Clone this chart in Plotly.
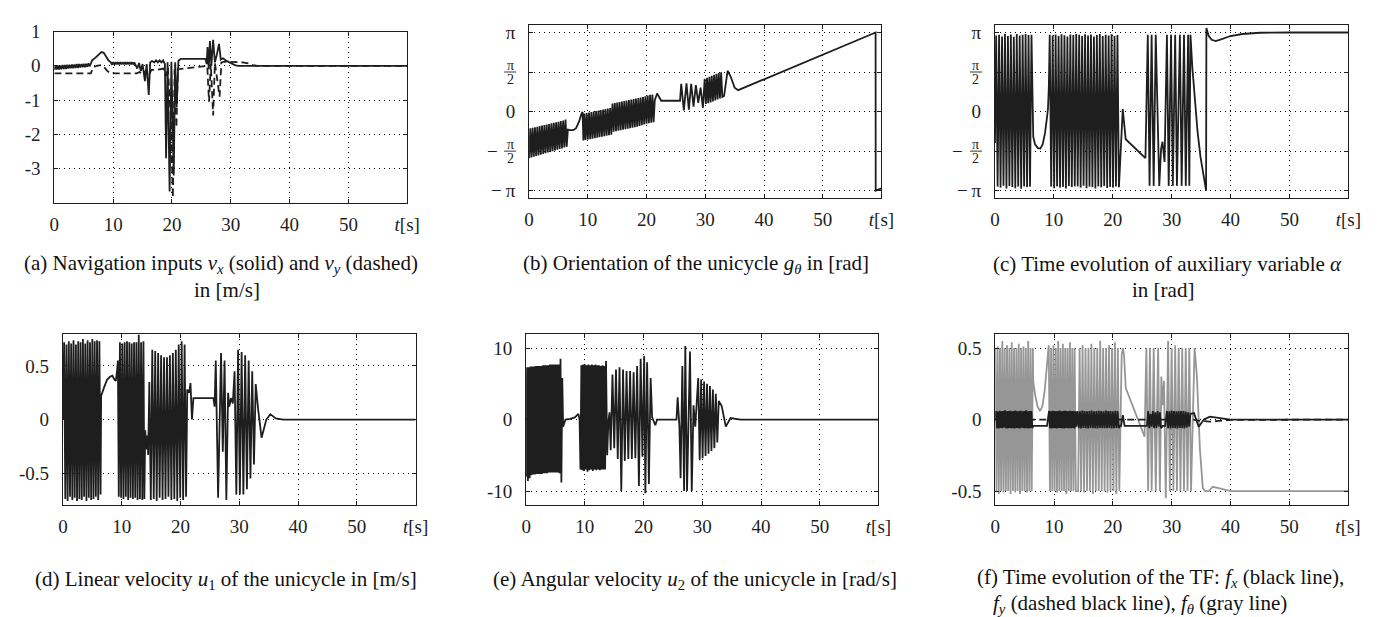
import math
import plotly.graph_objects as go

PI = math.pi

# ---------------- (a) navigation inputs v_x, v_y [m/s] ----------------
vx_t = [0.0, 0.2, 0.4, 0.6, 0.8, 1.0, 1.2, 1.4, 1.6, 1.8, 2.0, 2.2, 2.4, 2.6, 2.8, 3.0,
        3.2, 3.4, 3.6, 3.8, 4.0, 4.2, 4.4, 4.6, 4.8, 5.0, 5.2, 5.4, 5.6, 5.8, 6.0, 6.2,
        6.4, 7.0, 7.6, 8.0, 8.4, 8.8, 9.2, 9.6,
        9.8, 10.0, 10.2, 10.4, 10.6, 10.8, 11.0, 11.2, 11.4, 11.6, 11.8, 12.0, 12.2, 12.4,
        12.6, 12.8, 13.0, 13.2, 13.4, 13.6, 13.8,
        14.1, 14.4, 14.7, 15.0, 15.4, 15.7, 16.05, 16.3, 16.6, 17.0, 17.3, 17.6, 17.9, 18.2,
        18.5, 18.8, 19.0, 19.25, 19.6, 19.9, 20.3, 20.55, 20.8, 21.1, 21.5,
        25.7, 25.9, 26.05, 26.25, 26.45, 26.7, 27.0, 27.3, 27.6, 28.0, 28.3, 28.7, 29.2,
        29.7, 30.2, 30.7, 31.2, 60.0]
vx_v = [-0.12, 0.00, -0.11, 0.01, -0.11, 0.01, -0.10, 0.02, -0.09, 0.02, -0.09, 0.03, -0.08, 0.03, -0.07, 0.04,
        -0.07, 0.04, -0.06, 0.05, -0.06, 0.05, -0.05, 0.05, -0.04, 0.06, -0.04, 0.06, -0.03, 0.07, -0.02, 0.07,
        0.15, 0.24, 0.34, 0.40, 0.38, 0.28, 0.16, 0.10,
        0.03, 0.11, 0.03, 0.11, 0.04, 0.11, 0.04, 0.11, 0.04, 0.11, 0.04, 0.11, 0.04, 0.11,
        0.04, 0.11, 0.04, 0.11, 0.04, 0.10, 0.03,
        -0.08, 0.08, -0.15, 0.05, -0.45, 0.05, -0.85, 0.10, 0.14, 0.10, 0.16, 0.10, 0.16, 0.10,
        0.16, 0.05, -2.70, 0.10, -3.67, 0.12, -3.20, 0.10, -1.20, 0.15, 0.20,
        0.20, 0.05, 0.55, -0.10, 0.72, 0.00, 0.76, 0.10, 0.30, 0.64, 0.18, 0.22, 0.15,
        0.10, 0.05, 0.02, 0.00, 0.00]
vy_t = [0.0, 6.2, 6.6, 7.2, 8.0, 8.5, 9.0, 9.5,
        14.0, 14.5, 15.0, 15.5, 16.0, 16.5, 17.5, 18.5,
        19.0, 19.3, 19.8, 20.15, 20.45, 20.75, 21.0, 22.0, 24.0, 26.0,
        26.3, 26.6, 27.0, 27.3, 28.1, 28.4, 29.0, 30.0, 31.0, 32.0, 33.0, 33.8, 34.5, 60.0]
vy_v = [-0.22, -0.22, -0.05, 0.0, 0.02, -0.05, -0.15, -0.22,
        -0.22, -0.18, -0.25, -0.15, -0.30, -0.12, -0.12, -0.08,
        -0.30, -0.05, -1.50, -3.85, -0.10, -1.80, -0.10, -0.08, -0.03, 0.0,
        -1.05, 0.05, -1.45, 0.08, -0.90, 0.10, 0.12, 0.12, 0.12, 0.10, 0.07, 0.02, 0.0, 0.0]

# ---------------- (b) orientation g_theta [rad] ----------------
gth_t = [0.0, 0.2, 0.4, 0.6, 0.8, 1.0, 1.2, 1.4, 1.6, 1.8, 2.0, 2.2, 2.4, 2.6, 2.8, 3.0,
         3.2, 3.4, 3.6, 3.8, 4.0, 4.2, 4.4, 4.6, 4.8, 5.0, 5.2, 5.4, 5.6, 5.8, 6.0, 6.2, 6.4,
         6.6, 7.0, 7.5, 8.0, 8.5, 8.9, 9.1, 9.25,
         9.4, 9.6, 9.8, 10.0, 10.2, 10.4, 10.6, 10.8, 11.0, 11.2, 11.4, 11.6, 11.8, 12.0,
         12.2, 12.4, 12.6, 12.8, 13.0, 13.2, 13.4, 13.6, 13.8, 14.0,
         14.2, 14.4, 14.6, 14.8, 15.0, 15.2, 15.4, 15.6, 15.8, 16.0, 16.2, 16.4, 16.6, 16.8,
         17.0, 17.2, 17.4, 17.6, 17.8, 18.0, 18.2, 18.4, 18.6, 18.8, 19.0, 19.2, 19.4, 19.6,
         19.8, 20.0, 20.2, 20.4, 20.6, 20.8, 21.0, 21.2,
         21.4, 21.8, 22.2, 22.5, 25.7,
         25.9, 26.35, 26.8, 27.2, 27.6, 28.0, 28.4, 28.8, 29.2, 29.6,
         29.9, 30.1, 30.3, 30.5, 30.7, 30.9, 31.1, 31.3, 31.5, 31.7, 31.9, 32.1, 32.3, 32.5,
         32.7, 32.9,
         33.2, 33.8, 34.3, 35.0, 35.6, 59.0, 59.02, 60.0]
gth_v = [-1.85, -0.66, -1.82, -0.64, -1.79, -0.62, -1.76, -0.60, -1.74, -0.57, -1.71, -0.55, -1.68, -0.53, -1.65, -0.51,
         -1.62, -0.49, -1.60, -0.47, -1.57, -0.45, -1.54, -0.43, -1.51, -0.41, -1.48, -0.38, -1.46, -0.36, -1.43, -0.32, -1.40,
         -0.72, -0.74, -0.74, -0.66, -0.40, -0.10, -0.02, -1.15,
         -0.08, -1.13, -0.06, -1.11, -0.04, -1.10, -0.02, -1.08, 0.0, -1.06, 0.02, -1.04, 0.04, -1.02,
         0.06, -1.0, 0.08, -0.98, 0.10, -0.96, 0.12, -0.94, 0.14, -0.92,
         0.32, -0.80, 0.34, -0.78, 0.36, -0.76, 0.38, -0.74, 0.40, -0.72, 0.42, -0.70, 0.44, -0.68,
         0.46, -0.66, 0.48, -0.64, 0.50, -0.62, 0.52, -0.60, 0.54, -0.57, 0.56, -0.54, 0.58, -0.51,
         0.61, -0.48, 0.64, -0.46, 0.67, -0.44, 0.68, -0.42,
         0.45, 0.72, 0.55, 0.43, 0.43,
         1.10, 0.05, 1.12, 0.08, 1.10, 0.20, 1.05, 0.35, 0.95, 0.15,
         1.30, 0.30, 1.34, 0.33, 1.38, 0.36, 1.42, 0.40, 1.46, 0.44, 1.50, 0.48, 1.53, 0.52,
         1.56, 0.58,
         0.62, 1.62, 1.40, 0.95, 0.85, 3.14, -3.14, -3.05]

# ---------------- (c) auxiliary variable alpha [rad] ----------------
al_t = [0.0, 0.2, 0.45, 0.7, 0.95, 1.2, 1.45, 1.7, 1.95, 2.2, 2.45, 2.7, 2.95, 3.2, 3.45, 3.7,
        3.95, 4.2, 4.45, 4.7, 4.95, 5.2, 5.45, 5.7, 5.95, 6.2,
        6.5, 6.8, 7.3, 7.7, 8.1, 8.5, 8.8, 9.0, 9.15,
        9.3, 9.55, 9.8, 10.05, 10.3, 10.55, 10.8, 11.05, 11.3, 11.55, 11.8, 12.05, 12.3, 12.55,
        12.8, 13.05, 13.3, 13.55, 13.8,
        14.05, 14.3, 14.55, 14.8, 15.05, 15.3, 15.55, 15.8, 16.05, 16.3, 16.55, 16.8, 17.05,
        17.3, 17.55, 17.8, 18.05, 18.3, 18.55, 18.8, 19.05, 19.3, 19.55, 19.8, 20.05, 20.3,
        20.55, 20.8, 21.05,
        21.7, 22.2, 25.55,
        25.95, 26.25, 26.6, 26.95, 27.3, 27.6, 27.9, 28.2, 28.45, 28.8, 29.2, 29.5, 29.9,
        30.2, 30.6, 30.9, 31.4, 31.7, 32.1, 32.4, 32.8, 33.0, 33.2,
        33.5, 33.9, 34.4, 34.9, 35.4, 35.85, 35.9, 36.3, 36.8, 37.5, 38.5, 40.0, 42.0, 45.0,
        50.0, 60.0]
al_v = [-1.25, 3.02, -2.98, 3.05, -3.02, 2.98, -2.95, 3.08, -3.05, 3.00, -2.96, 3.06, -3.00, 2.97, -3.04, 3.08,
        -2.98, 3.02, -3.06, 3.05, -2.97, 3.08, -3.00, 3.04, -2.98, 3.05,
        -1.00, -1.30, -1.45, -1.47, -1.30, -0.85, -0.30, 0.10, 1.00,
        3.05, -2.98, 3.02, -3.04, 3.06, -2.97, 3.00, -3.02, 3.07, -2.99, 3.03, -3.05, 2.98, -2.96,
        3.06, -3.00, 3.04, -2.97, 3.08,
        -2.97, 3.05, -3.02, 3.00, -2.95, 3.07, -3.04, 3.02, -2.98, 3.06, -3.00, 2.98, -3.05,
        3.04, -2.97, 3.08, -3.01, 3.00, -2.96, 3.05, -3.03, 3.02, -2.99, 3.07, -3.02, 3.00,
        -2.97, 3.04, -3.00,
        0.10, -1.10, -1.85,
        3.05, -2.95, 3.05, -2.95, 3.05, -0.40, -2.95, -1.50, -1.20, -2.00, 3.05, -2.95, 3.05,
        -2.95, 3.05, -2.95, 3.05, -2.95, 3.05, -2.95, 3.05, -2.95, 3.05,
        1.80, 0.60, -0.80, -1.80, -2.60, -3.14, 3.32, 3.00, 2.85, 2.80, 2.88, 3.00, 3.08, 3.13,
        3.14, 3.14]

# ---------------- (d) linear velocity u1 [m/s] ----------------
u1_t = [0.0, 0.2, 0.4, 0.6, 0.8, 1.0, 1.2, 1.4, 1.6, 1.8, 2.0, 2.2, 2.4, 2.6, 2.8, 3.0,
        3.2, 3.4, 3.6, 3.8, 4.0, 4.2, 4.4, 4.6, 4.8, 5.0, 5.2, 5.4, 5.6, 5.8, 6.0, 6.2, 6.4,
        6.5, 7.0, 7.5, 8.0, 8.4, 8.8, 9.0, 9.2, 9.35,
        9.5, 9.7, 9.9, 10.1, 10.3, 10.5, 10.7, 10.9, 11.1, 11.3, 11.5, 11.7, 11.9, 12.1,
        12.3, 12.5, 12.7, 12.9, 13.1, 13.3, 13.5, 13.7,
        13.85, 14.0, 14.2, 14.35, 14.5, 14.7,
        14.95, 15.2, 15.45, 15.7, 15.95, 16.2, 16.45, 16.7, 16.95, 17.2, 17.45, 17.7, 17.95,
        18.2, 18.45, 18.7, 18.95, 19.2, 19.45, 19.7, 19.95, 20.2, 20.45, 20.7, 20.95,
        21.15, 21.5, 21.7, 21.95, 22.2, 25.6, 25.8,
        26.0, 26.4, 26.9, 27.2, 27.5, 27.8, 28.1, 28.3, 28.6, 28.9,
        29.2, 29.5, 29.8, 30.1, 30.4, 30.7, 31.0, 31.3, 31.6, 31.9,
        32.2, 32.5, 32.8, 33.2, 33.8, 34.6, 35.3, 36.2, 37.5, 60.0]
u1_v = [0.0, 0.72, -0.74, 0.70, -0.76, 0.73, -0.72, 0.71, -0.75, 0.74, -0.73, 0.70, -0.76, 0.73, -0.74, 0.72,
        -0.75, 0.75, -0.72, 0.71, -0.76, 0.74, -0.73, 0.72, -0.75, 0.75, -0.74, 0.73, -0.72, 0.74, -0.75, 0.73, -0.70,
        0.22, 0.30, 0.37, 0.40, 0.41, 0.37, 0.36, 0.45, 0.55,
        -0.72, 0.72, -0.73, 0.71, -0.74, 0.72, -0.72, 0.73, -0.75, 0.72, -0.73, 0.71, -0.74, 0.72,
        -0.73, 0.72, -0.75, 0.79, -0.74, 0.72, -0.75, 0.73,
        -0.74, -0.10, -0.28, -0.15, -0.33, 0.35,
        -0.75, 0.65, -0.74, 0.64, -0.76, 0.62, -0.73, 0.60, -0.75, 0.58, -0.74, 0.58, -0.72,
        0.60, -0.75, 0.62, -0.74, 0.65, -0.76, 0.70, -0.73, 0.73, -0.75, 0.70, -0.72,
        0.28, 0.25, 0.34, 0.0, 0.20, 0.20, 0.12,
        0.55, -0.73, 0.62, -0.30, 0.55, -0.75, 0.25, 0.12, 0.20, 0.15,
        0.45, -0.70, 0.65, -0.70, 0.63, -0.70, 0.60, -0.65, 0.55, -0.55,
        0.45, -0.42, 0.33, 0.10, -0.17, 0.0, 0.05, 0.01, 0.0, 0.0]

# ---------------- (e) angular velocity u2 [rad/s] ----------------
u2_t = [0.0, 0.15, 0.3, 0.45, 0.6, 0.75, 0.9, 1.05, 1.2, 1.35, 1.5, 1.65, 1.8, 1.95, 2.1, 2.25,
        2.4, 2.55, 2.7, 2.85, 3.0, 3.15, 3.3, 3.45, 3.6, 3.75, 3.9, 4.05, 4.2, 4.35, 4.5, 4.65,
        4.8, 4.95, 5.1, 5.25, 5.4, 5.55, 5.7, 5.85, 6.0, 6.15, 6.3,
        6.5, 6.7, 7.5, 8.3, 8.9, 9.1,
        9.25, 9.4, 9.55, 9.7, 9.85, 10.0, 10.15, 10.3, 10.45, 10.6, 10.75, 10.9, 11.05, 11.2,
        11.35, 11.5, 11.65, 11.8, 11.95, 12.1, 12.25, 12.4, 12.55, 12.7, 12.85, 13.0, 13.15,
        13.3, 13.45, 13.6,
        13.8, 14.0, 14.2, 14.4, 14.7, 15.0, 15.3, 15.6, 15.9, 16.2, 16.5, 16.8, 17.1, 17.4,
        17.7, 18.0, 18.3, 18.6, 18.9, 19.2, 19.5, 19.8, 20.1, 20.3, 20.6, 20.9, 21.2,
        21.45, 21.7, 22.0, 22.3, 25.6, 25.8, 26.1, 26.3, 26.6, 26.9, 27.1, 27.4, 27.9, 28.2,
        28.5, 28.8, 29.0,
        29.3, 29.55, 29.8, 30.05, 30.3, 30.55, 30.8, 31.05, 31.3, 31.55, 31.8, 32.05, 32.3,
        32.55, 32.8, 33.3, 34.0, 34.8, 35.5, 36.5, 60.0]
u2_v = [-8.0, 7.3, -8.6, 7.3, -8.2, 7.4, -7.8, 7.4, -7.7, 7.4, -7.7, 7.5, -7.6, 7.5, -7.6, 7.5,
        -7.6, 7.5, -7.6, 7.6, -7.5, 7.6, -7.5, 7.6, -7.5, 7.6, -7.4, 7.7, -7.4, 7.7, -7.4, 7.7,
        -7.4, 7.7, -7.4, 7.7, -7.4, 7.7, -7.5, 8.5, -8.8, 5.8, -1.0,
        -0.5, 0.0, 0.1, 0.3, 0.8, 0.0,
        -7.0, 7.6, -7.1, 7.7, -7.2, 7.7, -7.0, 7.6, -7.3, 7.7, -7.1, 7.6, -7.0, 7.7,
        -7.2, 7.6, -7.0, 7.7, -7.1, 7.6, -7.0, 7.6, -7.1, 7.5, -7.0, 7.6, -7.0,
        7.5, -7.0, 8.2,
        -5.0, -0.3, 1.0, -4.3, 6.3, -4.0, 7.0, -5.5, 7.3, -10.0, 7.0, -5.8, 6.8, -5.5,
        6.8, -5.5, 6.6, -5.4, 7.5, -9.3, 8.5, -5.2, 8.9, -10.3, 8.0, -9.0, 5.8,
        0.3, -0.2, -0.8, 0.0, 0.0, 3.1, -1.0, -8.2, 7.5, -10.0, 10.3, -10.0, 9.5, -10.0,
        2.0, -1.0, 1.5,
        5.8, -5.7, 5.6, -5.4, 5.3, -5.1, 5.0, -4.8, 4.7, -4.4, 4.2, -4.0, 3.6,
        -3.2, 2.6, 1.9, -1.0, 0.2, 0.1, 0.0, 0.0]

# ---------------- (f) TF components f_x, f_y, f_theta ----------------
fth_t = [0.0, 0.2, 0.4, 0.6, 0.8, 1.0, 1.2, 1.4, 1.6, 1.8, 2.0, 2.2, 2.4, 2.6, 2.8, 3.0,
         3.2, 3.4, 3.6, 3.8, 4.0, 4.2, 4.4, 4.6, 4.8, 5.0, 5.2, 5.4, 5.6, 5.8, 6.0, 6.2, 6.4,
         6.45, 6.8, 7.2, 7.6, 8.0, 8.4, 8.8, 9.1,
         9.3, 9.5, 9.7, 9.9, 10.1, 10.3, 10.5, 10.7, 10.9, 11.1, 11.3, 11.5, 11.7, 11.9,
         12.1, 12.3, 12.5, 12.7, 12.9, 13.1, 13.3, 13.5, 13.7,
         14.1, 14.35, 14.6, 14.85, 15.1, 15.35, 15.6, 15.85, 16.1, 16.35, 16.6, 16.85, 17.1,
         17.35, 17.6, 17.85, 18.1, 18.35, 18.6, 18.85, 19.1, 19.35, 19.6, 19.85, 20.1, 20.35,
         20.6, 20.85, 21.1,
         21.5, 21.7, 21.9, 22.2, 25.4,
         25.7, 26.0, 26.3, 26.6, 26.95, 27.3, 27.7, 28.0, 28.25, 28.45, 28.7, 29.0, 29.4,
         29.7, 30.0, 30.3, 30.6, 30.9, 31.2, 31.5, 31.8, 32.1, 32.4, 32.7, 33.0, 33.3,
         33.9, 34.3, 34.8, 35.3, 35.7, 36.3, 37.0, 38.0, 40.0, 60.0]
fth_v = [0.50, -0.50, 0.51, -0.52, 0.50, -0.50, 0.55, -0.51, 0.50, -0.50, 0.52, -0.50, 0.50, -0.52, 0.54, -0.50,
         0.50, -0.51, 0.50, -0.50, 0.53, -0.52, 0.50, -0.50, 0.51, -0.50, 0.50, -0.51, 0.55, -0.50, 0.50, -0.50, 0.50,
         0.27, 0.17, 0.09, 0.06, 0.09, 0.20, 0.38, 0.52,
         -0.50, 0.50, -0.50, 0.52, -0.50, 0.50, -0.51, 0.55, -0.50, 0.50, -0.50, 0.53, -0.50, 0.50,
         -0.52, 0.50, -0.50, 0.54, -0.50, 0.50, -0.50, 0.50, -0.50,
         -0.50, 0.50, -0.50, 0.52, -0.51, 0.50, -0.50, 0.50, -0.50, 0.53, -0.52, 0.50, -0.50,
         0.50, -0.50, 0.55, -0.50, 0.50, -0.50, 0.50, -0.51, 0.52, -0.50, 0.50, -0.50, 0.54,
         -0.52, 0.50, -0.50,
         0.45, 0.50, 0.45, 0.22, -0.12,
         0.50, -0.50, 0.50, -0.50, 0.50, -0.50, 0.50, -0.50, 0.30, 0.10, 0.27, -0.55, 0.55,
         -0.50, 0.50, -0.50, 0.52, -0.50, 0.50, -0.50, 0.50, -0.50, 0.50, -0.50, 0.50, -0.50,
         0.50, 0.30, -0.20, -0.48, -0.50, -0.50, -0.47, -0.48, -0.50, -0.50]
fx_t = [0.0, 0.15, 0.3, 0.45, 0.6, 0.75, 0.9, 1.05, 1.2, 1.35, 1.5, 1.65, 1.8, 1.95, 2.1, 2.25,
        2.4, 2.55, 2.7, 2.85, 3.0, 3.15, 3.3, 3.45, 3.6, 3.75, 3.9, 4.05, 4.2, 4.35, 4.5, 4.65,
        4.8, 4.95, 5.1, 5.25, 5.4, 5.55, 5.7, 5.85, 6.0, 6.15, 6.3,
        6.45, 8.8, 9.0,
        9.15, 9.3, 9.45, 9.6, 9.75, 9.9, 10.05, 10.2, 10.35, 10.5, 10.65, 10.8, 10.95, 11.1,
        11.25, 11.4, 11.55, 11.7, 11.85, 12.0, 12.15, 12.3, 12.45, 12.6, 12.75, 12.9, 13.05,
        13.2, 13.35, 13.5, 13.65, 13.8,
        14.0, 14.2, 14.4, 14.6, 14.8, 15.0, 15.2, 15.4, 15.6, 15.8, 16.0, 16.2, 16.4, 16.6,
        16.8, 17.0, 17.2, 17.4, 17.6, 17.8, 18.0, 18.2, 18.4, 18.6, 18.8, 19.0, 19.2, 19.4,
        19.6, 19.8, 20.0, 20.2, 20.4, 20.6, 20.8, 21.0, 21.2,
        21.4, 21.7, 22.0, 25.8,
        26.0, 26.2, 26.4, 26.6, 26.8, 27.0, 27.2, 27.4, 27.6, 27.8, 28.0, 28.2, 28.5,
        28.9, 29.2, 29.4, 29.6, 29.8, 30.0, 30.2, 30.4, 30.6, 30.8, 31.0, 31.2, 31.4, 31.6,
        31.8, 32.0, 32.2, 32.4, 32.6, 32.8, 33.0, 33.2,
        33.8, 34.6, 35.5, 36.5, 38.0, 40.0, 60.0]
fx_v = [0.0, 0.060, -0.060, 0.055, -0.062, 0.062, -0.058, 0.058, -0.060, 0.060, -0.055, 0.065, -0.060, 0.058, -0.062, 0.060,
        -0.058, 0.062, -0.060, 0.057, -0.060, 0.060, -0.063, 0.063, -0.058, 0.058, -0.060, 0.060, -0.062, 0.061, -0.057, 0.057,
        -0.060, 0.060, -0.060, 0.064, -0.060, 0.058, -0.062, 0.060, -0.058, 0.060, -0.060,
        -0.045, -0.045, 0.0,
        0.060, -0.060, 0.058, -0.062, 0.062, -0.058, 0.060, -0.060, 0.057, -0.063, 0.060, -0.058, 0.063, -0.060,
        0.058, -0.060, 0.060, -0.062, 0.061, -0.058, 0.060, -0.060, 0.058, -0.061, 0.062, -0.060, 0.060,
        -0.058, 0.060, -0.062, 0.058, -0.050,
        0.060, -0.060, 0.058, -0.062, 0.062, -0.058, 0.060, -0.060, 0.057, -0.063, 0.060, -0.058, 0.063, -0.060,
        0.058, -0.060, 0.060, -0.062, 0.061, -0.058, 0.060, -0.060, 0.058, -0.061, 0.062, -0.060, 0.060, -0.058,
        0.060, -0.062, 0.058, -0.060, 0.061, -0.058, 0.060, -0.060, -0.045,
        -0.045, 0.030, -0.045, -0.045,
        0.060, -0.060, 0.040, -0.050, 0.060, -0.060, 0.050, -0.060, 0.060, -0.050, 0.050, -0.060, -0.045,
        -0.045, 0.060, -0.060, 0.058, -0.062, 0.062, -0.058, 0.060, -0.060, 0.057, -0.063, 0.060, -0.058, 0.060,
        -0.060, 0.060, -0.062, 0.055, -0.055, 0.050, -0.050, 0.040,
        0.045, -0.050, 0.0, 0.020, 0.012, 0.0, 0.0]
fy_t = [0.0, 6.4, 9.0, 14.0, 21.3, 22.0, 25.8, 29.0, 33.5, 35.0, 36.5, 38.0, 40.0, 60.0]
fy_v = [0.0, 0.0, 0.0, 0.0, 0.0, 0.0, 0.0, 0.0, 0.0, -0.010, -0.015, -0.010, -0.003, 0.0]

# ---------------- figure ----------------
W, H = 1385, 617
FONT = "Liberation Serif"
INK = "#1e1e1e"
GRAY = "#969696"

for name, t, v in [("vx", vx_t, vx_v), ("vy", vy_t, vy_v), ("gth", gth_t, gth_v),
                   ("al", al_t, al_v), ("u1", u1_t, u1_v), ("u2", u2_t, u2_v),
                   ("fth", fth_t, fth_v), ("fx", fx_t, fx_v), ("fy", fy_t, fy_v)]:
    if len(t) != len(v):
        raise ValueError(f"{name}: {len(t)} times vs {len(v)} values")

# plot boxes in pixels: (left, right, top, bottom)
boxes = {
    1: (50, 407.5, 22, 197),
    2: (531, 888, 15, 192),
    3: (1003, 1361, 15, 192),
    4: (58.7, 416, 330.7, 506),
    5: (528, 885, 330.7, 506),
    6: (1003.3, 1360.7, 330.7, 506),
}

fig = go.Figure()


def line(t, v, k, color=INK, dash=None, width=1.8):
    fig.add_trace(go.Scatter(
        x=t, y=v, mode="lines", xaxis=f"x{k}", yaxis=f"y{k}",
        line=dict(color=color, width=width, dash=dash), showlegend=False,
        hoverinfo="skip"))


line(vy_t, vy_v, 1, dash="7px,4px")
line(vx_t, vx_v, 1)
line(gth_t, gth_v, 2)
line(al_t, al_v, 3)
line(u1_t, u1_v, 4)
line(u2_t, u2_v, 5)
line(fth_t, fth_v, 6, color=GRAY)
line(fy_t, fy_v, 6, dash="7px,4px")
line(fx_t, fx_v, 6)

x_ticks = [0, 10, 20, 30, 40, 50, 60]
x_text = ["0", "10", "20", "30", "40", "50", "<i>t</i>[s]"]

y_cfg = {
    1: ([-4, 1], [-3, -2, -1, 0, 1], ["-3", "-2", "-1", "0", "1"]),
    2: ([-3.43, 3.45], [-PI, -PI / 2, 0, PI / 2, PI], ["\u2212\u2009\u03c0", " ", "0", " ", "\u03c0"]),
    3: ([-3.43, 3.45], [-PI, -PI / 2, 0, PI / 2, PI], ["\u2212\u2009\u03c0", " ", "0", " ", "\u03c0"]),
    4: ([-0.8, 0.8], [-0.5, 0, 0.5], ["-0.5", "0", "0.5"]),
    5: ([-12, 12], [-10, 0, 10], ["-10", "0", "10"]),
    6: ([-0.6, 0.6], [-0.5, 0, 0.5], ["-0.5", "0", "0.5"]),
}

common = dict(
    showline=True, linecolor=INK, linewidth=1.1, mirror="ticks",
    ticks="inside", ticklen=4, tickwidth=1, tickcolor=INK,
    showgrid=True, gridcolor="#000000", gridwidth=1, griddash="1px,4px",
    zeroline=False, tickfont=dict(family=FONT, size=19, color=INK),
)

layout = {}
for k, (l, r, t, b) in boxes.items():
    sfx = "" if k == 1 else str(k)
    yr, yv, yt = y_cfg[k]
    layout[f"xaxis{sfx}"] = dict(
        common, domain=[l / W, r / W], anchor=f"y{k}", range=[0, 60],
        tickmode="array", tickvals=x_ticks, ticktext=x_text, ticklabelstandoff=4)
    layout[f"yaxis{sfx}"] = dict(
        common, domain=[1 - b / H, 1 - t / H], anchor=f"x{k}", range=yr,
        tickmode="array", tickvals=yv, ticktext=yt, ticklabelstandoff=9)

fig.update_layout(
    width=W, height=H, margin=dict(l=0, r=0, t=0, b=0),
    paper_bgcolor="white", plot_bgcolor="white", **layout)

# stacked pi/2 tick labels on the angle axes
for k in (2, 3):
    for yv in (PI / 2, -PI / 2):
        for txt, dy in (("\u03c0", 7), ("2", -7)):
            fig.add_annotation(
                x=0, xref=f"x{k} domain", y=yv, yref=f"y{k}", text=txt,
                showarrow=False, xanchor="center", yanchor="middle",
                xshift=-19, yshift=dy, font=dict(family=FONT, size=14, color=INK))
        fig.add_shape(
            type="line", xref=f"x{k} domain", xsizemode="pixel", xanchor=0,
            x0=-25, x1=-13, yref=f"y{k}", y0=yv, y1=yv,
            line=dict(color=INK, width=0.9))
        if yv < 0:
            fig.add_annotation(
                x=0, xref=f"x{k} domain", y=yv, yref=f"y{k}", text="\u2212",
                showarrow=False, xanchor="center", yanchor="middle",
                xshift=-37, font=dict(family=FONT, size=19, color=INK))

# captions
captions = [
    (219, 259, "(a) Navigation inputs <i>v<sub>x</sub></i> (solid) and <i>v<sub>y</sub></i> (dashed)"),
    (225, 286, "in [m/s]"),
    (700, 259, "(b) Orientation of the unicycle <i>g<sub>\u03b8</sub></i> in [rad]"),
    (1178, 259, "(c) Time evolution of auxiliary variable <i>\u03b1</i>"),
    (1173, 286, "in [rad]"),
    (224, 582, "(d) Linear velocity <i>u</i><sub>1</sub> of the unicycle in [m/s]"),
    (699, 582, "(e) Angular velocity <i>u</i><sub>2</sub> of the unicycle in [rad/s]"),
    (1171, 580, "(f) Time evolution of the TF: <i>f<sub>x</sub></i> (black line),"),
    (1150, 607, "<i>f<sub>y</sub></i> (dashed black line), <i>f<sub>\u03b8</sub></i> (gray line)"),
]
for cx, cy, txt in captions:
    fig.add_annotation(
        x=cx / W, y=1 - cy / H, xref="paper", yref="paper", text=txt,
        showarrow=False, xanchor="center", yanchor="middle",
        font=dict(family=FONT, size=21, color="#111111"))

fig.write_html("out.html")
